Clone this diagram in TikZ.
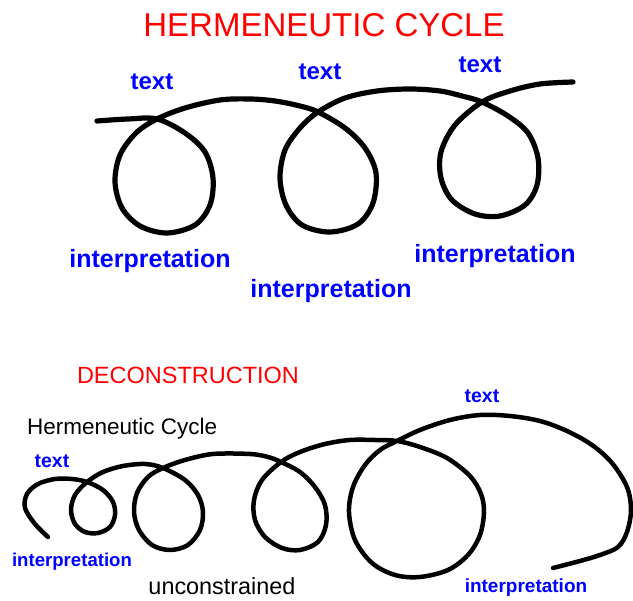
\documentclass[tikz,border=0pt]{standalone}
\usepackage{fontspec}
\setmainfont{Liberation Sans}
\definecolor{lblblue}{RGB}{0,0,255}
\definecolor{ttlred}{RGB}{255,0,0}
\begin{document}
\begin{tikzpicture}[x=1pt,y=-1pt,
  curve/.style={line width=5.2pt,line cap=round,line join=round,black},
  curveb/.style={line width=4.5pt,line cap=round,line join=round,black},
  lbl/.style={inner sep=0pt,anchor=base,text=lblblue,font=\bfseries\fontsize{#1}{#1}\selectfont},
  ttl/.style={inner sep=0pt,anchor=base,text=ttlred,font=\fontsize{#1}{#1}\selectfont},
  plain/.style={inner sep=0pt,anchor=base,text=black,font=\fontsize{#1}{#1}\selectfont}]
\useasboundingbox (0,0) rectangle (633,601);
% ---------- top ----------
\node[ttl=33] (title) at (324,37) {HERMENEUTIC CYCLE};
\draw[curve] plot[smooth,tension=0.55] coordinates {
 (97,121) (128,119) (157,119)
 (185,133) (205,152) (213,178) (210,205) (195,225) (167,233) (140,226) (122,208) (115,182) (120,155) (136,133) (157,119)
 (185,108) (220,100) (250,99) (275,101) (300,106) (318,112)
 (345,128) (365,148) (376,173) (373,203) (358,224) (330,232) (302,225) (286,205) (280,178) (285,150) (300,128) (318,112)
 (345,98) (377,91) (410,89) (440,91) (462,96) (482,102)
 (508,116) (528,133) (538,158) (537,185) (525,205) (500,216) (475,214) (452,200) (441,178) (441,152) (455,125) (482,102)
 (510,91) (540,84) (573,82)};
\node[lbl=24] (t1) at (152,90) {text};
\node[lbl=24] (t2) at (320,80) {text};
\node[lbl=24] (t3) at (480,73) {text};
\node[lbl=25] (i1) at (150,268) {interpretation};
\node[lbl=25] (i2) at (331,298) {interpretation};
\node[lbl=25] (i3) at (495,263) {interpretation};
% ---------- bottom ----------
\node[ttl=23.5] (decon) at (188,384) {DECONSTRUCTION};
\node[plain=22.5,anchor=base west] (hc) at (27,435) {Hermeneutic Cycle};
\draw[curveb] plot[smooth,tension=0.55] coordinates {
 (48,537) (35,524) (25,508) (27,494) (38,484) (55,479) (72,479) (87,482)
 (103,490) (113,502) (115,515) (110,527) (98,533) (85,532) (75,524) (71,510) (75,495) (87,482)
 (103,472) (123,466) (145,464) (163,468)
 (185,480) (198,495) (203,512) (200,530) (188,545) (170,550) (152,545) (139,530) (134,512) (137,493) (148,477) (163,468)
 (185,460) (213,454) (250,454) (268,457) (281,462)
 (300,472) (315,487) (325,505) (326,525) (318,542) (300,550) (282,548) (265,537) (255,520) (254,500) (262,480) (281,462)
 (300,452) (325,444) (350,440) (375,440) (397,441)
 (420,447) (447,458) (470,476) (481,494) (484,512) (480,535) (468,555) (448,570) (420,577) (395,575) (372,563) (355,540) (349,512) (353,487) (365,465) (380,450) (397,441)
 (420,430) (450,420) (480,415) (510,416) (540,421) (567,431) (592,445) (612,463) (627,487) (631,510) (627,532) (618,547) (600,555) (580,561) (553,568)};
\node[lbl=19.5] (t4) at (52,468) {text};
\node[lbl=19.5] (t5) at (482,403) {text};
\node[lbl=18.6] (i4) at (72,567) {interpretation};
\node[lbl=19] (i5) at (526,593) {interpretation};
\node[plain=23.4] (unc) at (222,595) {unconstrained};
\end{tikzpicture}
\end{document}
